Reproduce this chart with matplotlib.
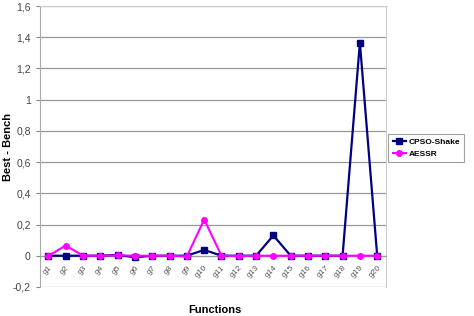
import matplotlib
matplotlib.use("Agg")
import matplotlib.pyplot as plt
from matplotlib.ticker import FuncFormatter
import matplotlib.transforms as mtransforms

plt.rcParams["font.family"] = ["Liberation Sans", "DejaVu Sans"]

# data
functions = [f"g{i}" for i in range(1, 21)]
cpso_shake = [0, 0, 0, 0, 0.005, -0.01, 0, 0, 0, 0.037,
              0, 0, 0, 0.13, 0, 0, 0, 0, 1.365, 0]
aessr = [0, 0.065, 0, 0, 0.002, 0, 0, 0, -0.005, 0.232,
         0, -0.003, 0, 0, 0, 0, 0, 0, 0, 0]
y_ticks = [-0.2, 0, 0.2, 0.4, 0.6, 0.8, 1.0, 1.2, 1.4, 1.6]

fig = plt.figure(figsize=(4.74, 3.16), dpi=100)
ax = fig.add_axes([0.084, 0.092, 0.730, 0.889])

x = list(range(len(functions)))
ax.plot(x, cpso_shake, color="#000080", linewidth=1.6, marker="s",
        markersize=5, markerfacecolor="#000080", markeredgecolor="#000080",
        label="CPSO-Shake", zorder=3)
ax.plot(x, aessr, color="#ff00ff", linewidth=1.5, marker="o",
        markersize=4, markerfacecolor="#ff00ff", markeredgecolor="#ff00ff",
        label="AESSR", zorder=4)

ax.set_xlim(-0.5, len(functions) - 0.5)
ax.set_ylim(-0.2, 1.6)
ax.set_yticks(y_ticks)
ax.yaxis.set_major_formatter(FuncFormatter(
    lambda v, _: (f"{v:g}").replace(".", ",")))

# category axis crosses at zero, like the spreadsheet chart
ax.spines["bottom"].set_position(("data", 0))
ax.spines["bottom"].set_color("#999999")
ax.set_xticks(x)
ax.set_xticklabels(functions, rotation=45, ha="right", va="top",
                   rotation_mode="anchor", fontsize=6, color="#555555")
shift = mtransforms.ScaledTranslation(-3 / 100, 0, fig.dpi_scale_trans)
for lbl in ax.get_xticklabels():
    lbl.set_transform(lbl.get_transform() + shift)
ax.tick_params(axis="x", length=0, pad=6)
ax.tick_params(axis="y", length=3, color="#888888", labelsize=7.5,
               labelcolor="#444444")

ax.grid(axis="y", color="#999999", linewidth=0.9)
ax.set_axisbelow(True)
for side in ["top", "right"]:
    ax.spines[side].set_color("#cccccc")
ax.spines["left"].set_color("#aaaaaa")

ax.set_xlabel("Functions", fontsize=8, fontweight="bold")
ax.xaxis.set_label_coords(0.506, -0.064)
ax.set_ylabel("Best - Bench", fontsize=8, fontweight="bold")
ax.yaxis.set_label_coords(-0.078, 0.5)

leg = ax.legend(loc="upper left", bbox_to_anchor=(1.0, 0.555),
                fontsize=6, frameon=True, fancybox=False,
                handlelength=1.6, borderpad=0.5, labelspacing=0.55,
                handletextpad=0.3, borderaxespad=0.3)
leg.get_frame().set_edgecolor("#888888")
leg.get_frame().set_linewidth(0.8)
for t in leg.get_texts():
    t.set_fontweight("bold")

fig.savefig("out.png", dpi=100)
